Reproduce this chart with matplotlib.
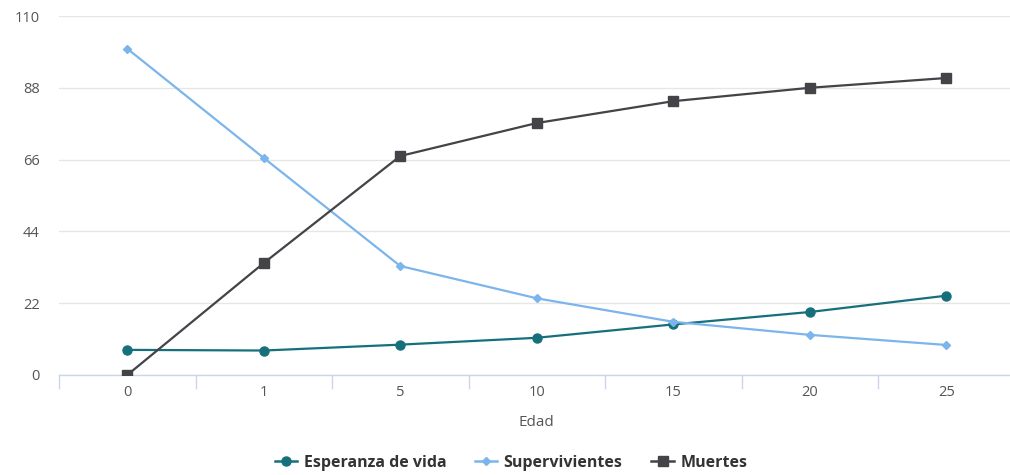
import matplotlib
matplotlib.use("Agg")
import matplotlib.pyplot as plt
from matplotlib.lines import Line2D

edades = ["0", "1", "5", "10", "15", "20", "25"]
esperanza = [7.7, 7.5, 9.3, 11.4, 15.5, 19.3, 24.3]
supervivientes = [100, 66.5, 33.4, 23.5, 16.3, 12.3, 9.2]
muertes = [0, 34.3, 67.1, 77.2, 83.9, 88.0, 91.0]
y_ticks = [0, 22, 44, 66, 88, 110]

plt.rcParams["font.family"] = ["Open Sans", "DejaVu Sans"]

fig = plt.figure(figsize=(10.1, 4.75), dpi=100)
ax = fig.add_axes([59 / 1010, 100 / 475, 955.5 / 1010, 359 / 475])

x = list(range(len(edades)))
c_esp = "#16707c"
c_sup = "#7cb5ec"
c_mue = "#434348"

ax.plot(x, esperanza, color=c_esp, lw=1.6, marker="o", ms=6.5, zorder=3)
ax.plot(x, supervivientes, color=c_sup, lw=1.6, marker="D", ms=4.5, zorder=3)
ax.plot(x, muertes, color=c_mue, lw=1.6, marker="s", ms=6.5, zorder=3)

ax.set_xlim(-0.5, len(edades) - 0.5)
ax.set_ylim(0, 110)
ax.set_yticks(y_ticks)
ax.set_yticklabels([str(v) for v in y_ticks])
ax.set_xticks(x)
ax.set_xticklabels(edades)

ax.grid(axis="y", color="#e6e6e6", lw=1)
ax.set_axisbelow(True)
for side in ["top", "right", "left"]:
    ax.spines[side].set_visible(False)
ax.spines["bottom"].set_color("#ccd6eb")
ax.spines["bottom"].set_linewidth(1)
ax.spines["bottom"].set_zorder(2)

ax.tick_params(axis="y", length=0, pad=14, labelsize=10.5, labelcolor="#555555")
ax.tick_params(axis="x", length=0, pad=7, labelsize=10.5, labelcolor="#555555")
ax.set_xticks([i + 0.5 for i in range(-1, len(edades))], minor=True)
ax.tick_params(axis="x", which="minor", length=10, color="#ccd6eb", width=1)
for lbl in ax.get_yticklabels():
    lbl.set_horizontalalignment("right")

ax.set_xlabel("Edad", fontsize=11, color="#555555", labelpad=11)

handles = [
    Line2D([], [], color=c_esp, lw=1.8, marker="o", ms=6.5),
    Line2D([], [], color=c_sup, lw=1.8, marker="D", ms=4.5),
    Line2D([], [], color=c_mue, lw=1.8, marker="s", ms=6.5),
]
leg = fig.legend(handles, ["Esperanza de vida", "Supervivientes", "Muertes"],
                 loc="center", bbox_to_anchor=(511 / 1010, 1 - 463 / 475), ncol=3,
                 frameon=False, handlelength=1.4, handletextpad=0.4, columnspacing=1.8,
                 prop={"weight": "bold", "size": 11.5})
for t in leg.get_texts():
    t.set_color("#333333")

fig.savefig("out.png", dpi=100, facecolor="white")
